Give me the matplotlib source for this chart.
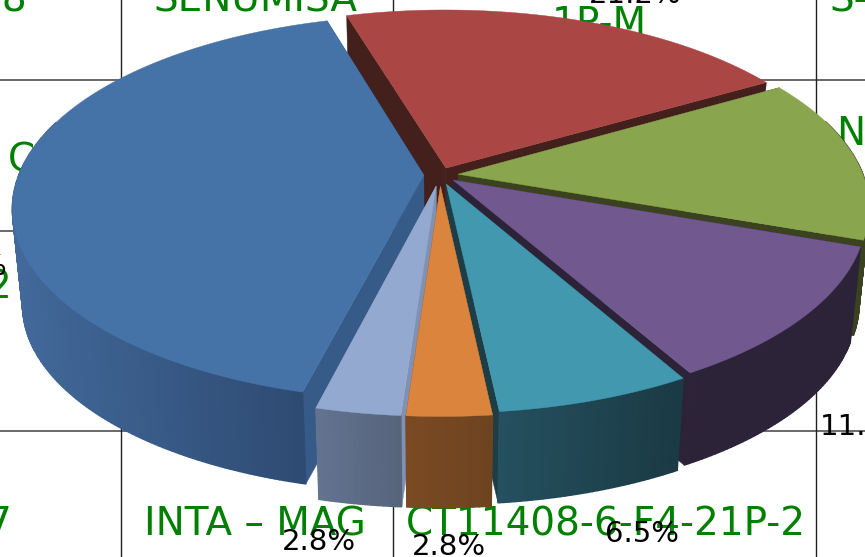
import numpy as np
import matplotlib
matplotlib.use("Agg")
import matplotlib.pyplot as plt
from matplotlib.colors import to_rgb

names = ["Red", "Green", "Purple", "Teal", "Orange", "LightBlue", "Blue"]
values = [21.2, 13.8, 11.4, 6.5, 2.8, 2.8, 41.5]
top_colors = ["#AA4643", "#89A54E", "#71588F", "#4198AF", "#DB843D", "#93A9CF", "#4572A7"]
wall_left = ["#43201C", "#3A421F", "#2D2339", "#1D3D47", "#7A4A23", "#7F92B5", "#375B88"]
wall_light = ["#57201F", "#3A421F", "#2D2339", "#25505F", "#7A4A23", "#637390", "#42699A"]
wall_dark = ["#43201C", "#3A421F", "#2D2339", "#1A3A44", "#6E4420", "#56637B", "#2C486F"]
explode = [0.04, 0.045, 0.042, 0.05, 0.06, 0.06, 0.04]
draw_order = ["Red", "Green", "Purple", "Blue", "Teal", "LightBlue", "Orange"]
start_angle = 106.5

green_labels = ["18", "SENUMISA", "1P-M", "S-", "N", "C", "2", "7", "INTA – MAG", "CT11408-6-F4-21P-2"]
black_labels = ["21.2%", "2.8%", "2.8%", "6.5%", "11.", "%"]

CX, CY, A, B, P = 440.0, 175.0, 405.0, 187.0, 0.169
DZ, SZ = 97.0, 0.976


def project(u, v, low=False):
    s = 1.0 / (1.0 - P * v)
    x = A * u * s
    y = B * v * s
    if low:
        return CX + SZ * x, CY + DZ + SZ * y
    return CX + x, CY + y


fig = plt.figure(figsize=(8.65, 5.57), dpi=100)
ax = fig.add_axes([0, 0, 1, 1])
ax.set_xlim(0, 865)
ax.set_ylim(557, 0)
ax.axis("off")

for y in (80, 231, 431):
    ax.plot([0, 865], [y, y], color="#404040", lw=1.1, zorder=1)
for x in (120.5, 393, 816):
    ax.plot([x, x], [0, 557], color="#202020", lw=1.0, zorder=1)

FONT = "DejaVu Sans"
green_pos = [(27, 12, "right"), (153, 12, "left"), (552, 35, "left"), (830, 12, "left"),
             (836, 145, "left"), (8, 172, "left"), (11, 298, "right"), (12, 535, "right"),
             (144, 535, "left"), (406, 535, "left")]
for t, (x, y, ha) in zip(green_labels, green_pos):
    ax.text(x, y, t, color="#008000", fontsize=28, family=FONT, ha=ha, va="baseline", zorder=2)
black_pos = [(635, 3, "center"), (282, 550, "left"), (412, 555, "left"), (605, 542, "left"),
             (820, 435, "left"), (6, 275, "right")]
for t, (x, y, ha) in zip(black_labels, black_pos):
    ax.text(x, y, t, color="black", fontsize=21, family=FONT, ha=ha, va="baseline", zorder=3)

# angular spans, clockwise from the start angle
spans = {}
ang = start_angle
for n, val in zip(names, values):
    d = val / sum(values) * 360.0
    spans[n] = (ang, ang - d)
    ang -= d

z = 10
for n in draw_order:
    i = names.index(n)
    a0, a1 = spans[n]
    mid = np.radians((a0 + a1) / 2)
    ox, oy = explode[i] * np.cos(mid), -explode[i] * np.sin(mid)
    th = np.radians(np.linspace(a0, a1, max(int(abs(a0 - a1) * 1.5), 6)))
    u = ox + np.cos(th)
    v = oy - np.sin(th)
    tx, ty = project(u, v)
    bx, by = project(u, v, True)
    ax_, ay_ = project(np.array([ox]), np.array([oy]))
    bx_, by_ = project(np.array([ox]), np.array([oy]), True)

    # radial walls
    for end in (0, -1):
        ax.fill([ax_[0], tx[end], bx[end], bx_[0]], [ay_[0], ty[end], by[end], by_[0]],
                color=wall_left[i], lw=0.3, zorder=z)
    z += 1
    # curved outer wall with a horizontal shade
    c1, c2 = np.array(to_rgb(wall_light[i])), np.array(to_rgb(wall_dark[i]))
    xmin, xmax = tx.min(), tx.max()
    for k in range(len(th) - 1):
        if v[k] + v[k + 1] < -0.6:
            continue
        f = ((tx[k] + tx[k + 1]) / 2 - xmin) / max(xmax - xmin, 1)
        f = float(np.clip(f, 0, 1))
        ax.fill([tx[k], tx[k + 1], bx[k + 1], bx[k]], [ty[k], ty[k + 1], by[k + 1], by[k]],
                color=tuple(c1 * (1 - f) + c2 * f), lw=1.0, zorder=z)
    z += 1
    # top face
    ax.fill(np.r_[ax_, tx], np.r_[ay_, ty], color=top_colors[i], lw=0.3, zorder=z)
    z += 1

fig.savefig("out.png", dpi=100)
